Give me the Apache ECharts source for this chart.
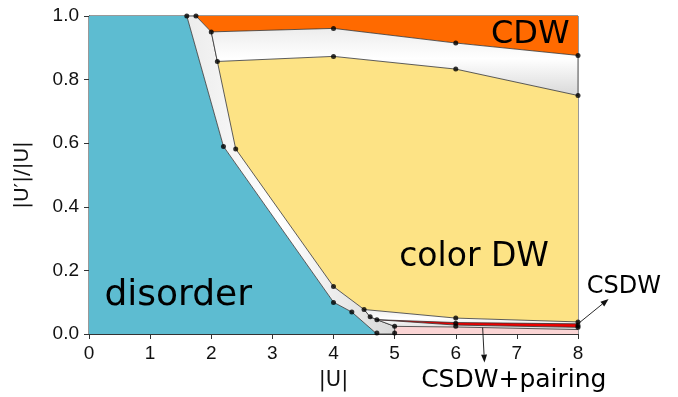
<!DOCTYPE html>
<html><head><meta charset="utf-8">
<script src="https://cdn.jsdelivr.net/npm/echarts@6/dist/echarts.min.js"></script>
<style>html,body{margin:0;padding:0;background:#fff}#c{width:678px;height:397px}</style>
</head><body><div id="c"></div>
<script>
// ---- data (phase boundaries, in |U| , |U'|/|U| units) ----
const xTickValues = [0, 1, 2, 3, 4, 5, 6, 7, 8];
const yTickValues = [0.0, 0.2, 0.4, 0.6, 0.8, 1.0];

const disorderRegion = [[0,0],[0,1],[1.6,1],[2.2,0.59],[4.0,0.10],[4.3,0.069],[4.71,0]];
const cdwRegion = [[1.75,1],[8,1],[8,0.876],[6,0.915],[4,0.961],[2.0,0.95]];
const colorDWRegion = [[2.1,0.857],[4,0.873],[6,0.833],[8,0.75],[8,0.038],[6,0.05],[4.5,0.077],[4,0.149],[2.4,0.582]];
const csdwRegion = [[4.71,0.045],[6,0.036],[8,0.032],[8,0.021],[6,0.028]];
const csdwPairingRegion = [[5,0],[5,0.024],[6,0.022],[8,0.014],[8,0]];

const bandLeft = [[1.6,1],[1.75,1],[2.0,0.95],[2.1,0.857],[2.4,0.582],[4,0.149],[4.5,0.077],[4.6,0.054],[4.71,0.045],[5,0.024],[5,0],[4.71,0],[4.3,0.069],[4.0,0.10],[2.2,0.59]];
const bandTop = [[2.0,0.95],[4,0.961],[6,0.915],[8,0.876],[8,0.75],[6,0.833],[4,0.873],[2.1,0.857]];
const bandBottom = [[4.5,0.077],[6,0.05],[8,0.038],[8,0.014],[6,0.022],[5,0.024],[4.71,0.045],[4.6,0.054]];

const dots = [[1.6,1],[1.75,1],[2.0,0.95],[2.1,0.857],[2.2,0.59],[2.4,0.582],
  [4,0.961],[4,0.873],[6,0.915],[6,0.833],[8,0.876],[8,0.75],
  [4,0.149],[4,0.099],[4.3,0.069],[4.5,0.077],[4.6,0.054],[4.71,0.045],[4.71,0.003],
  [5,0.024],[5,0.003],[6,0.05],[6,0.034],[6,0.024],[8,0.038],[8,0.027],[8,0.021]];

const regionLabels = ['disorder', 'CDW', 'color DW', 'CSDW', 'CSDW+pairing'];
// ---------------------------------------------------------------------------

const chart = echarts.init(document.getElementById('c'), null, {renderer: 'canvas'});

function polySeries(name, pts, fill, stroke, z) {
  return {
    type: 'custom', name: name, z: z, clip: true,
    data: [0],
    renderItem: function (params, api) {
      return {
        type: 'polygon',
        shape: {points: pts.map(p => api.coord(p))},
        style: {fill: fill, stroke: stroke || null, lineWidth: 0.8}
      };
    }
  };
}

function grad(dirX, dirY) {
  return new echarts.graphic.LinearGradient(0, 0, dirX, dirY, [
    {offset: 0, color: '#ececec'},
    {offset: 0.45, color: '#ffffff'},
    {offset: 1, color: '#d8d8d8'}
  ]);
}

const FONT = '"DejaVu Sans", Verdana, sans-serif';
const TICKFONT = '"Liberation Sans", Arial, sans-serif';

function arrow(api, from, to) {
  const a = api.coord(from), b = api.coord(to);
  const ang = Math.atan2(b[1] - a[1], b[0] - a[0]);
  const L = 8, W = 3;
  const bx = b[0] - L * Math.cos(ang), by = b[1] - L * Math.sin(ang);
  const px = -Math.sin(ang) * W, py = Math.cos(ang) * W;
  return [
    {type: 'line', shape: {x1: a[0], y1: a[1], x2: bx, y2: by}, style: {stroke: '#111', lineWidth: 0.9}},
    {type: 'polygon', shape: {points: [[b[0], b[1]], [bx + px, by + py], [bx - px, by - py]]}, style: {fill: '#111'}}
  ];
}

const option = {
  animation: false,
  grid: {left: 89, right: 100, top: 16, bottom: 63, show: true, borderColor: '#333', borderWidth: 1, backgroundColor: 'transparent'},
  xAxis: {
    type: 'value', min: 0, max: 8, interval: 1,
    name: '|U|', nameLocation: 'middle', nameGap: 36,
    nameTextStyle: {fontFamily: FONT, fontSize: 21, color: '#111'},
    axisLine: {show: true, onZero: false, lineStyle: {color: '#333', width: 1}},
    axisTick: {show: true, length: 5, inside: false, lineStyle: {color: '#333'}},
    axisLabel: {fontFamily: TICKFONT, fontSize: 19, color: '#111', margin: 10,
      formatter: v => xTickValues.includes(v) ? String(v) : ''},
    splitLine: {show: false}
  },
  yAxis: {
    type: 'value', min: 0, max: 1, interval: 0.2,
    name: "|U′|/|U|", nameLocation: 'middle', nameGap: 56,
    nameTextStyle: {fontFamily: FONT, fontSize: 20, color: '#111'},
    axisLine: {show: true, onZero: false, lineStyle: {color: '#333', width: 1}},
    axisTick: {show: true, length: 5, inside: false, lineStyle: {color: '#333'}},
    axisLabel: {fontFamily: TICKFONT, fontSize: 19, color: '#111', margin: 10,
      formatter: v => yTickValues.some(t => Math.abs(t - v) < 1e-9) ? v.toFixed(1) : ''},
    splitLine: {show: false}
  },
  series: [
    polySeries('disorder', disorderRegion, '#5dbcd1', null, 1),
    polySeries('CDW', cdwRegion, '#ff6a00', null, 1),
    polySeries('color DW', colorDWRegion, '#fde385', null, 1),
    polySeries('CSDW+pairing', csdwPairingRegion, '#fbd5d5', null, 1),
    polySeries('bandLeft', bandLeft, grad(1, 0), '#333', 2),
    polySeries('bandTop', bandTop, grad(0, 1), '#333', 2),
    polySeries('bandBottom', bandBottom, grad(0, 1), '#333', 2),
    polySeries('CSDW', csdwRegion, '#ee0000', '#333', 3),
    {
      type: 'scatter', z: 5, data: dots, symbol: 'circle', symbolSize: 5,
      itemStyle: {color: '#000'}, clip: false
    },
    {
      type: 'custom', z: 6, clip: false, data: [0],
      renderItem: function (params, api) {
        function txt(s, p, size) {
          const c = api.coord(p);
          return {type: 'text', style: {text: s, x: c[0], y: c[1], fill: '#000',
            font: size + 'px ' + FONT, align: 'center', verticalAlign: 'middle'}};
        }
        return {
          type: 'group',
          children: [
            txt(regionLabels[0], [1.46, 0.12], 36),
            txt(regionLabels[1], [7.22, 0.94], 32),
            txt(regionLabels[2], [6.3, 0.24], 33),
            txt(regionLabels[3], [8.75, 0.15], 24),
            txt(regionLabels[4], [6.95, -0.145], 25)
          ].concat(arrow(api, [8.0, 0.032], [8.5, 0.11]))
           .concat(arrow(api, [6.44, 0.02], [6.47, -0.09]))
        };
      }
    }
  ]
};
chart.setOption(option);
</script>
</body></html>
